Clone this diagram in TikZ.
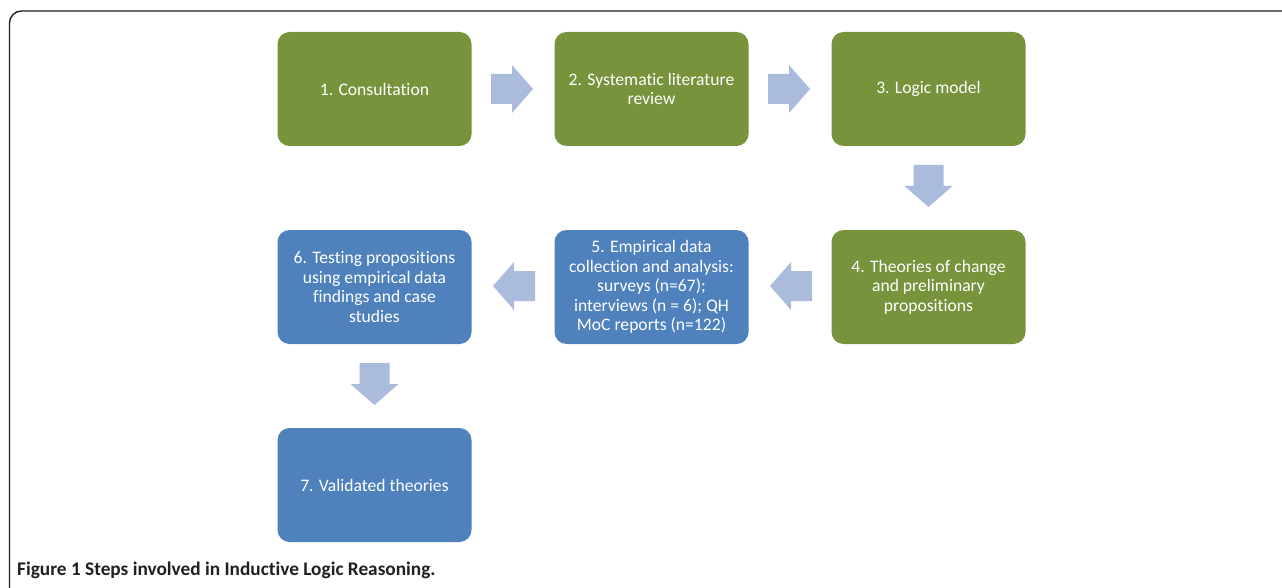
\documentclass[tikz,border=0pt]{standalone}
\usepackage{fontspec}
\setmainfont{Carlito}[Ligatures=NoCommon]
\usetikzlibrary{calc}
\definecolor{boxgreen}{HTML}{77933C}
\definecolor{boxblue}{HTML}{4F81BD}
\definecolor{arrowblue}{HTML}{AABBDB}
\definecolor{framegray}{HTML}{231F20}
\tikzset{
  stepbox/.style={rectangle, rounded corners=12pt, minimum width=194pt, minimum height=114pt,
    inner sep=0pt, text=white, align=center, font=\fontsize{17.6}{19.6}\selectfont},
  greenbox/.style={stepbox, fill=boxgreen},
  bluebox/.style={stepbox, fill=boxblue},
  blockarrow/.pic={\fill[arrowblue] (-21,-15) -- (0,-15) -- (0,-24) -- (21,0) -- (0,24) -- (0,15) -- (-21,15) -- cycle;},
}
\begin{document}
\begin{tikzpicture}[x=1pt,y=-1pt]
\useasboundingbox (0,0) rectangle (1282,588);
\begin{scope}
\clip (0,0) rectangle (1282,588);
\draw[framegray, line width=1.4pt, rounded corners=12pt] (9.5,11) rectangle (1300,610);
\end{scope}
\node[greenbox] (b1) at (374.5,89) {1. Consultation};
\node[greenbox] (b2) at (651.5,89) {2. Systematic literature\\review};
\node[greenbox] (b3) at (928.5,89) {3. Logic model};
\node[greenbox] (b4) at (928.5,287) {4. Theories of change\\and preliminary\\propositions};
\node[bluebox] (b5) at (651.5,287) {5. Empirical data\\collection and analysis:\\surveys (n=67);\\interviews (n = 6); QH\\MoC reports (n=122)};
\node[bluebox] (b6) at (374.5,287) {6. Testing propositions\\using empirical data\\findings and case\\studies};
\node[bluebox] (b7) at (374.5,485) {7. Validated theories};
\coordinate (a12) at ($(b1.east)!0.5!(b2.west)+(-1,0)$);
\coordinate (a23) at ($(b2.east)!0.5!(b3.west)+(-1,0)$);
\coordinate (a34) at ($(b3.south)!0.5!(b4.north)+(0,-2)$);
\coordinate (a45) at ($(b4.west)!0.5!(b5.east)+(1,-1)$);
\coordinate (a56) at ($(b5.west)!0.5!(b6.east)+(1,-1)$);
\coordinate (a67) at ($(b6.south)!0.5!(b7.north)+(0,-2)$);
\pic at (a12) {blockarrow};
\pic at (a23) {blockarrow};
\pic[rotate=-90] at (a34) {blockarrow};
\pic[rotate=180] at (a45) {blockarrow};
\pic[rotate=180] at (a56) {blockarrow};
\pic[rotate=-90] at (a67) {blockarrow};
\node[anchor=base west, inner sep=0pt, text=framegray, font=\bfseries\fontsize{19.3}{22}\selectfont] (cap) at (17,575) {Figure 1 Steps involved in Inductive Logic Reasoning.};
\end{tikzpicture}
\end{document}
